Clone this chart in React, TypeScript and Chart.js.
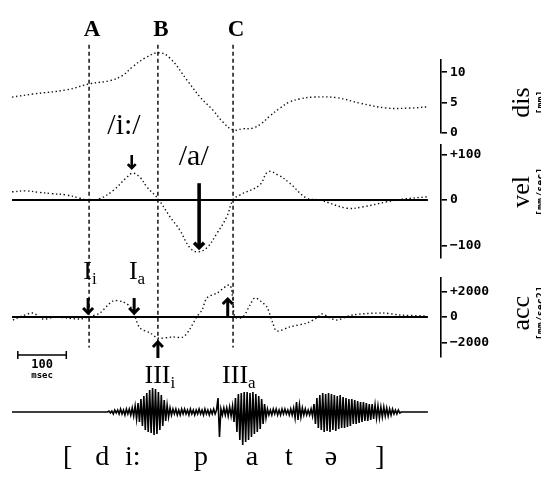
import React, { useEffect, useRef } from "react";
import { Chart, registerables } from "chart.js";

Chart.register(...registerables);

// time axis in ms (100 ms scale bar)
const timeMax = 885;

// displacement [mm]
const disTime = [0, 43, 113, 161, 202, 227, 249, 274, 303, 326, 361, 388, 414, 435, 456, 476, 497, 515, 532, 553, 573, 594, 621, 670, 718, 773, 821, 858];
const disValues = [5.9, 6.4, 7.1, 8.1, 8.6, 9.4, 10.9, 12.3, 13.2, 12.3, 8.7, 5.9, 3.8, 1.8, 0.5, 0.7, 0.8, 1.6, 2.8, 4.1, 5.1, 5.6, 5.9, 5.8, 4.9, 4.1, 4.1, 4.3];

// velocity [mm/sec]
const velTime = [0, 28, 55, 82, 113, 140, 157, 181, 210, 235, 249, 264, 278, 301, 326, 346, 367, 383, 402, 423, 443, 456, 470, 511, 528, 549, 573, 608, 635, 691, 724, 773, 806, 856];
const velValues = [18, 20, 17, 14, 11, 4, 0, 3, 22, 48, 59, 50, 29, 3, -37, -66, -105, -114, -105, -73, -37, 0, 11, 33, 62, 55, 37, 4, 0, -18, -15, -4, 2, 7];

// acceleration [mm/sec2]
const accTime = [2, 21, 43, 64, 89, 113, 140, 157, 181, 208, 229, 247, 254, 264, 285, 301, 332, 353, 367, 381, 392, 402, 423, 449, 456, 460, 476, 491, 501, 515, 526, 538, 546, 573, 608, 629, 639, 656, 670, 703, 765, 800, 856];
const accValues = [-235, 80, 310, -160, 0, -80, -160, 0, 310, 1250, 1180, 700, 0, -860, -1250, -1650, -1570, -1570, -940, 0, 550, 1490, 1880, 2510, 1180, 0, 0, 940, 1490, 1180, 780, -470, -1100, -780, -470, -80, 240, -80, -240, 160, 310, 160, 80];

// zero reference lines
const baseTime = [0, 858];

// audio waveform, one sample every 3 ms from 200 ms
const waveStart = 200;
const waveStep = 3;
const waveEnd = 858;
const waveSamples = [
  1, -1, 1, -2, 2, -1, 2, -2, 3, -2, 2, -3, 3, -2, 3, -3, 4,
  -4, 6, -7, 9, -10, 13, -14, 16, -18, 19, -20, 22, -21, 24, -23,
  23, -22, 20, -18, 17, -14, 12, -9, 7, -5, 4,
  -3, 3, -2, 3, -3, 2, -3, 3, -2, 3, -2, 2, -3, 3, -2, 2, -3, 2, -2, 3, -2, 2, -3, 3, -2, 2, -3, 2, -2, 3, -2, 2,
  14, -25, 3,
  -3, 4, -3, 4, -4, 5, -4, 6,
  -10, 14, -20, 18, -28, 19, -33, 20, -30, 20, -28, 19, -25, 20, -22, 18, -20, 16, -17, 13, -12, 8, -6,
  3, -3, 2, -3, 3, -2, 3, -3, 2, -3, 3, -2, 3, -2, 2, -3, 3, -3, 4,
  -6, 10, -8, 7, -5, 4,
  -3, 3, -3, 2, -3, 3, -4,
  8, -12, 14, -16, 17, -18, 19, -20, 18, -19, 19, -20, 18, -18, 17, -19, 16, -17, 17, -16, 15, -16, 14, -15, 13, -14, 13, -12, 12, -12, 11, -11, 10, -10, 10, -9, 9, -9, 8, -8, 8,
  -7, 7, -6, 6, -6, 5, -5, 5, -4, 4, -4, 3, -3, 3, -2, 2, -2, 2, -1,
];

// tick labels
const disTicks = [0, 5, 10];
const disTickLabels = ["0", "5", "10"];
const velTicks = [-100, 0, 100];
const velTickLabels = ["\u2212100", "0", "+100"];
const accTicks = [-2000, 0, 2000];
const accTickLabels = ["\u22122000", "0", "+2000"];

// event markers
const eventNames = ["A", "B", "C"];
const eventTimes = [159, 301, 456];

// vowel peaks on the velocity trace
const vowelLabels = ["/i:/", "/a/"];
const vowelTimes = [231, 375];
const vowelLevels = [163, 95];
const velArrowTimes = [247, 386];
const velArrowFrom = [99, 37];
const velArrowTo = [70, -105];

// acceleration landmarks
const accMain = ["I", "I", "III", "III"];
const accSub = ["i", "a", "i", "a"];
const accLabelTimes = [161, 258, 305, 468];
const accLabelLevels = [2980, 2980, -5176, -5176];
const accArrowTimes = [157, 252, 301, 445];
const accArrowFrom = [1490, 1490, -3215, 80];
const accArrowTo = [310, 310, -1960, 1410];

// transcription
const phones = ["[", "d", "i:", "p", "a", "t", "\u0259", "]"];
const phoneTimes = [115, 186, 249, 390, 495, 571, 658, 759];

// right-hand titles
const titles = ["dis", "vel", "acc"];
const titleUnits = ["[mm]", "[mm/sec]", "[mm/sec2]"];
const titleAxes = ["dis", "vel", "acc"];
const titleLevels = [5, 18, 300];

const SERIF = '"Liberation Serif", "DejaVu Serif", serif';
const MONO = '"DejaVu Sans Mono", monospace';

const rightAxis = (ticks: number[], labels: string[], min: number, max: number, stackWeight: number, weight: number) => ({
  type: "linear" as const,
  position: "right" as const,
  stack: "panels",
  stackWeight,
  weight,
  min,
  max,
  border: { display: true, color: "#000", width: 1.6 },
  grid: { drawOnChartArea: false, drawTicks: true, tickLength: 6, color: "#000", lineWidth: 1.6 },
  ticks: {
    color: "#000",
    padding: 3,
    autoSkip: false,
    font: { family: MONO, size: 13, weight: "bold" as const },
    callback: (v: any) => labels[ticks.indexOf(Number(v))] ?? "",
  },
  afterBuildTicks: (s: any) => {
    s.ticks = ticks.map((v) => ({ value: v }));
  },
  afterFit: (s: any) => {
    s.width = 100;
  },
});

const spacer = (stackWeight: number, weight: number, min = 0, max = 1) => ({
  type: "linear" as const,
  position: "right" as const,
  stack: "panels",
  stackWeight,
  weight,
  min,
  max,
  display: false,
});

function drawArrow(ctx: CanvasRenderingContext2D, x: number, y0: number, y1: number, w: number, head: number) {
  const dir = y1 > y0 ? 1 : -1;
  ctx.lineWidth = w;
  ctx.beginPath();
  ctx.moveTo(x, y0);
  ctx.lineTo(x, y1 - dir * 1);
  ctx.stroke();
  ctx.beginPath();
  ctx.moveTo(x - head, y1 - dir * head);
  ctx.lineTo(x, y1);
  ctx.lineTo(x + head, y1 - dir * head);
  ctx.stroke();
}

const overlay = {
  id: "overlay",
  afterDraw(chart: any) {
    const { ctx, scales } = chart;
    const X = (t: number) => scales.x.getPixelForValue(t);
    const Y = (id: string, v: number) => scales[id].getPixelForValue(v);
    ctx.save();
    ctx.fillStyle = "#000";
    ctx.strokeStyle = "#000";

    // dashed event lines A, B, C
    const top = Y("dis", 14.5);
    const bottom = Y("acc", -2400);
    ctx.font = `bold 23px ${SERIF}`;
    ctx.textAlign = "center";
    ctx.textBaseline = "alphabetic";
    eventTimes.forEach((t, i) => {
      const x = X(t);
      ctx.setLineDash([4, 3]);
      ctx.lineWidth = 1.4;
      ctx.beginPath();
      ctx.moveTo(x, top);
      ctx.lineTo(x, bottom);
      ctx.stroke();
      ctx.setLineDash([]);
      ctx.fillText(eventNames[i], x + 3, top - 9);
    });

    // vowel labels and arrows
    ctx.font = `30px ${SERIF}`;
    ctx.textBaseline = "middle";
    vowelLabels.forEach((s, i) => ctx.fillText(s, X(vowelTimes[i]), Y("vel", vowelLevels[i])));
    ctx.lineCap = "butt";
    velArrowTimes.forEach((t, i) => {
      drawArrow(ctx, X(t), Y("vel", velArrowFrom[i]), Y("vel", velArrowTo[i]), i === 0 ? 2.6 : 3.6, i === 0 ? 4 : 5);
    });
    accArrowTimes.forEach((t, i) => {
      drawArrow(ctx, X(t), Y("acc", accArrowFrom[i]), Y("acc", accArrowTo[i]), 3, 5);
    });

    // landmark labels with subscripts
    ctx.textBaseline = "alphabetic";
    ctx.textAlign = "left";
    accMain.forEach((m, i) => {
      ctx.font = `26px ${SERIF}`;
      const mw = ctx.measureText(m).width;
      ctx.font = `17px ${SERIF}`;
      const sw = ctx.measureText(accSub[i]).width;
      const x0 = X(accLabelTimes[i]) - (mw + sw) / 2;
      const y = Y("acc", accLabelLevels[i]);
      ctx.font = `26px ${SERIF}`;
      ctx.fillText(m, x0, y);
      ctx.font = `17px ${SERIF}`;
      ctx.fillText(accSub[i], x0 + mw, y + 5);
    });

    // 100 msec scale bar
    const by = Y("acc", -2980);
    const bx0 = X(12);
    const bx1 = X(112);
    ctx.lineWidth = 1.5;
    ctx.beginPath();
    ctx.moveTo(bx0, by);
    ctx.lineTo(bx1, by);
    ctx.moveTo(bx0, by - 4);
    ctx.lineTo(bx0, by + 4);
    ctx.moveTo(bx1, by - 4);
    ctx.lineTo(bx1, by + 4);
    ctx.stroke();
    ctx.textAlign = "center";
    ctx.textBaseline = "middle";
    ctx.font = `bold 12px ${MONO}`;
    ctx.fillText("100", X(62), Y("wave", 47));
    ctx.font = `bold 9px ${MONO}`;
    ctx.fillText("msec", X(62), Y("wave", 36));

    // transcription
    ctx.font = `28px ${SERIF}`;
    phones.forEach((p, i) => ctx.fillText(p, X(phoneTimes[i]), Y("wave", -46)));

    // rotated axis titles
    titles.forEach((s, i) => {
      const y = Y(titleAxes[i], titleLevels[i]);
      ctx.save();
      ctx.translate(522, y);
      ctx.rotate(-Math.PI / 2);
      ctx.font = `26px ${SERIF}`;
      ctx.textAlign = "center";
      ctx.textBaseline = "middle";
      ctx.fillText(s, 0, 0);
      ctx.font = `bold 10px ${MONO}`;
      ctx.fillText(titleUnits[i], 0, 19);
      ctx.restore();
    });

    ctx.restore();
  },
};

const points = (t: number[], v: number[]) => t.map((x, i) => ({ x, y: v[i] }));

export default function App() {
  const canvasRef = useRef<HTMLCanvasElement>(null);

  useEffect(() => {
    if (!canvasRef.current) return;
    const waveData = [
      { x: 0, y: 0 },
      { x: waveStart - waveStep, y: 0 },
      ...waveSamples.map((v, i) => ({ x: waveStart + i * waveStep, y: v })),
      { x: waveStart + waveSamples.length * waveStep, y: 0 },
      { x: waveEnd, y: 0 },
    ];
    const dotted = { borderColor: "#111", borderWidth: 1.4, borderDash: [1.4, 2.6], pointRadius: 0, clip: false as const, fill: false };
    const solid = { borderColor: "#000", borderWidth: 2, pointRadius: 0, clip: false as const, fill: false };

    const chart = new Chart(canvasRef.current, {
      type: "line",
      data: {
        datasets: [
          { ...dotted, label: "dis", data: points(disTime, disValues), yAxisID: "dis", tension: 0.4 },
          { ...solid, label: "vel0", data: baseTime.map((x) => ({ x, y: 0 })), yAxisID: "vel" },
          { ...dotted, label: "vel", data: points(velTime, velValues), yAxisID: "vel", tension: 0.4 },
          { ...solid, label: "acc0", data: baseTime.map((x) => ({ x, y: 0 })), yAxisID: "acc" },
          { ...dotted, label: "acc", data: points(accTime, accValues), yAxisID: "acc", tension: 0.3 },
          { label: "wave", data: waveData, yAxisID: "wave", borderColor: "#000", borderWidth: 1.6, pointRadius: 0, tension: 0, clip: false as const },
        ],
      },
      options: {
        animation: false,
        responsive: true,
        maintainAspectRatio: false,
        events: [],
        layout: { padding: { top: 60, bottom: 42, left: 12, right: 0 } },
        plugins: { legend: { display: false }, tooltip: { enabled: false } },
        scales: {
          x: { type: "linear", min: 0, max: timeMax, display: false },
          dis: rightAxis(disTicks, disTickLabels, 0, 12, 73, 1),
          gap1: spacer(12, 2),
          vel: rightAxis(velTicks, velTickLabels, -127.5, 121, 113, 3),
          gap2: spacer(20, 4),
          acc: rightAxis(accTicks, accTickLabels, -3137, 3059, 79, 5),
          wave: spacer(83, 6, -28, 55),
        },
      },
      plugins: [overlay],
    });

    return () => chart.destroy();
  }, []);

  return (
    <div style={{ position: "absolute", left: 0, top: 0, width: 541, height: 482, background: "#fff" }}>
      <canvas ref={canvasRef} />
    </div>
  );
}
